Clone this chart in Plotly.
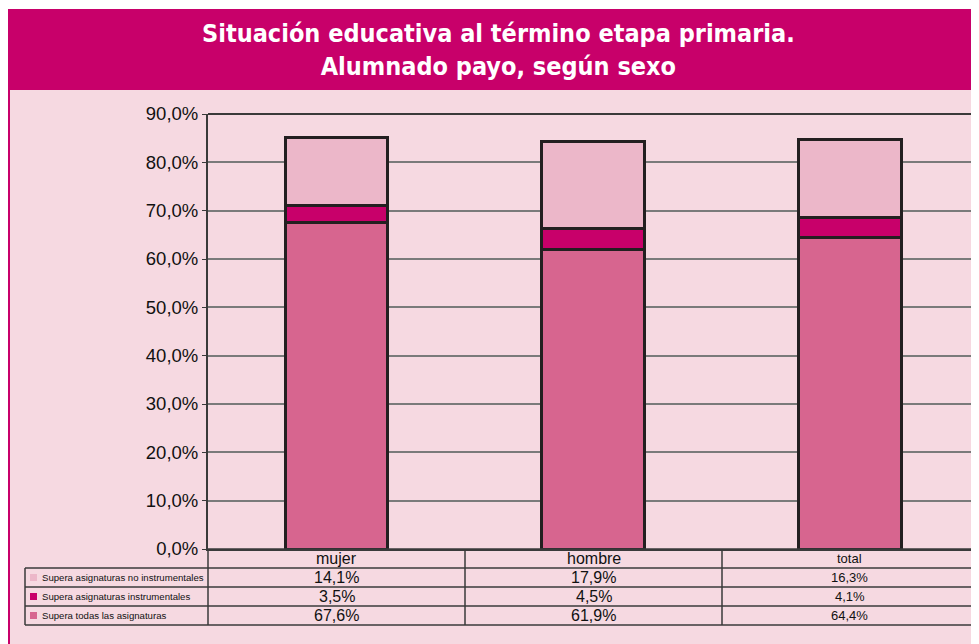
import plotly.graph_objects as go

categories = ["mujer", "hombre", "total"]
series_names = ["Supera todas las asignaturas", "Supera asignaturas instrumentales", "Supera asignaturas no instrumentales"]
todas = [67.6, 61.9, 64.4]
instrumentales = [3.5, 4.5, 4.1]
no_instrumentales = [14.1, 17.9, 16.3]
series_values = [todas, instrumentales, no_instrumentales]
colors = ["#D7658F", "#C8006A", "#ECB7C9"]

OFF = 8  # page body margin
W, H = 979 - OFF, 644 - OFF
L, R, T, B = 208 - OFF, 978 - OFF, 114 - OFF, 549 - OFF

def px(x):
    return (x - OFF - L) / (R - L)

def py(y):
    return (B - (y - OFF)) / (B - T)

fig = go.Figure()
for name, vals, col in zip(series_names, series_values, colors):
    fig.add_trace(go.Bar(x=categories, y=vals, name=name, marker_color=col,
                         marker_line_color="#231F20", marker_line_width=3, width=0.4))

shapes = []
annotations = []
shapes.append(dict(type="rect", xref="paper", yref="paper", x0=px(9), x1=px(985), y0=py(90), y1=py(650),
                   fillcolor="#F6D9E1", line_width=0, layer="below"))
shapes.append(dict(type="rect", xref="paper", yref="paper", x0=px(8), x1=px(985), y0=py(9), y1=py(90),
                   fillcolor="#C8006A", line_width=0, layer="below"))
shapes.append(dict(type="rect", xref="paper", yref="paper", x0=px(8), x1=px(10), y0=py(90), y1=py(650),
                   fillcolor="#C8006A", line_width=0, layer="below"))
annotations.append(dict(xref="paper", yref="paper", x=px(498), y=py(50), text="<b>Situación educativa al término etapa primaria.<br>Alumnado payo, según sexo</b>",
                        showarrow=False, font=dict(family="DejaVu Sans Condensed", size=25, color="white"),
                        xanchor="center", yanchor="middle"))

line = dict(color="#3a3a3a", width=1.5)
col_x = [208, 465, 722, 977]
row_y = [549, 568, 587, 606, 625]
shapes.append(dict(type="line", xref="paper", yref="paper", x0=px(208), x1=px(977), y0=py(549), y1=py(549), line=line))
for yy in row_y[1:]:
    shapes.append(dict(type="line", xref="paper", yref="paper", x0=px(25), x1=px(977), y0=py(yy), y1=py(yy), line=line))
for xx in col_x:
    shapes.append(dict(type="line", xref="paper", yref="paper", x0=px(xx), x1=px(xx), y0=py(549), y1=py(625), line=line))
shapes.append(dict(type="line", xref="paper", yref="paper", x0=px(25), x1=px(25), y0=py(568), y1=py(625), line=line))

row_series = [2, 1, 0]
for i, cat in enumerate(categories):
    cx = (col_x[i] + col_x[i + 1]) / 2
    fs = 16 if i < 2 else 13
    annotations.append(dict(xref="paper", yref="paper", x=px(cx), y=py(558.5), text=cat, showarrow=False,
                            font=dict(family="Arial", size=fs, color="#111"), xanchor="center", yanchor="middle"))
    for r, s in enumerate(row_series):
        yc = (row_y[r + 1] + row_y[r + 2]) / 2
        txt = f"{series_values[s][i]:.1f}%".replace(".", ",")
        annotations.append(dict(xref="paper", yref="paper", x=px(cx), y=py(yc), text=txt, showarrow=False,
                                font=dict(family="Arial", size=fs, color="#111"), xanchor="center", yanchor="middle"))
for r, s in enumerate(row_series):
    yc = (row_y[r + 1] + row_y[r + 2]) / 2
    shapes.append(dict(type="rect", xref="paper", yref="paper", x0=px(30), x1=px(37), y0=py(yc - 3.5), y1=py(yc + 3.5),
                       fillcolor=colors[s], line_width=0))
    annotations.append(dict(xref="paper", yref="paper", x=px(40), y=py(yc), text=series_names[s], showarrow=False,
                            font=dict(family="Arial", size=9.6, color="#111"), xanchor="left", yanchor="middle"))

shapes.append(dict(type="line", xref="paper", yref="paper", x0=0, x1=1, y0=1, y1=1, line=dict(color="#3a3a3a", width=2)))
shapes.append(dict(type="line", xref="paper", yref="paper", x0=1, x1=1, y0=0, y1=1, line=dict(color="#777", width=2)))

fig.update_layout(
    width=W, height=H, autosize=False,
    margin=dict(l=L, r=W - R, t=T, b=H - B, pad=0),
    paper_bgcolor="white", plot_bgcolor="#F6D9E1",
    barmode="stack", showlegend=False, separators=",.",
    shapes=shapes, annotations=annotations,
)
fig.update_yaxes(range=[0, 90], dtick=10, tickformat=".1f", ticksuffix="%", showgrid=True,
                 gridcolor="#7a7a7a", gridwidth=2, showline=True, linecolor="#3a3a3a", linewidth=2,
                 ticks="outside", ticklen=4, tickcolor="#3a3a3a", tickfont=dict(family="Arial", size=18.5, color="#111"),
                 zeroline=False)
fig.update_xaxes(showticklabels=False, showline=True, linecolor="#3a3a3a", linewidth=2, ticks="")

fig.write_html("out.html", post_script="document.body.style.overflow='hidden';")
